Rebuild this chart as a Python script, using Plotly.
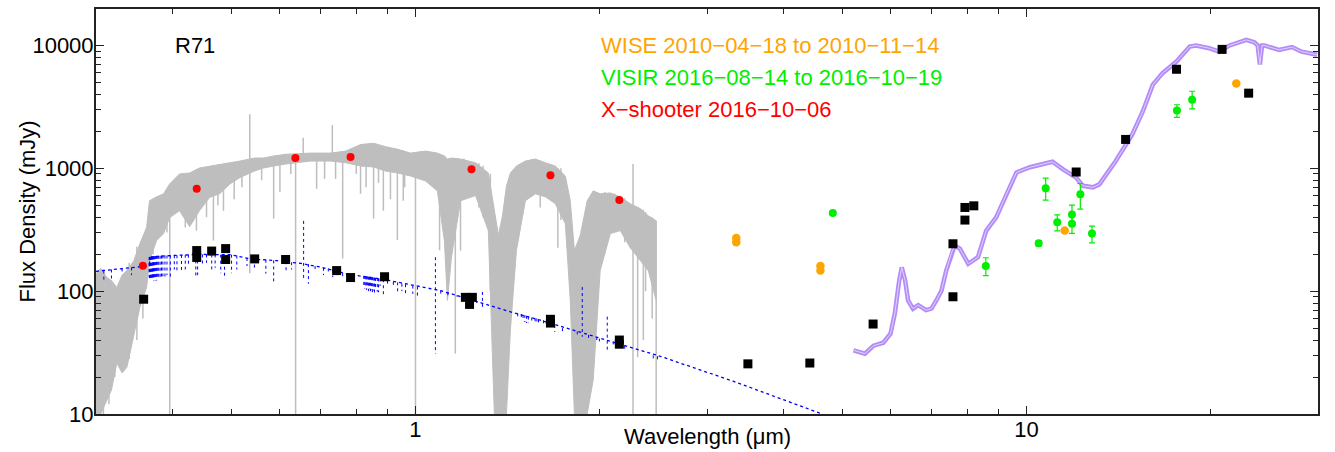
import math
import plotly.graph_objects as go

# ---------------- data (wavelength in micron, flux density in mJy) ----------------
# X-shooter spectrum, upper / lower envelope of the (noisy) grey spectrum
xs_wl = [0.300, 0.3055, 0.3126, 0.318, 0.3245, 0.331, 0.337, 0.346, 0.354, 0.363,
         0.367, 0.377, 0.387, 0.396, 0.411, 0.427, 0.443, 0.4605, 0.478, 0.497,
         0.516, 0.545, 0.564, 0.586, 0.613, 0.6735, 0.726, 0.769, 0.813, 0.854,
         0.893, 0.935, 0.981, 1.038, 1.086, 1.115, 1.128, 1.145, 1.185, 1.254,
         1.316, 1.346, 1.367, 1.388, 1.409, 1.430, 1.463, 1.513, 1.571, 1.631,
         1.694, 1.759, 1.792, 1.820, 1.861, 1.910, 1.954, 2.006, 2.084, 2.164,
         2.246, 2.332, 2.404, 2.477]
xs_hi = [139, 153, 129, 122, 107, 135, 147, 177, 244, 330,
         544, 586, 620, 746, 900, 916, 1005, 1044, 1083, 1110,
         1145, 1212, 1212, 1260, 1300, 1330, 1330, 1380, 1560, 1600,
         1500, 1430, 1330, 1380, 1330, 1260, 1190, 1212, 1190, 1110,
         916, 451, 285, 411, 719, 916, 1044, 1145, 1190, 1110,
         1044, 866, 544, 214, 285, 544, 655, 620, 630, 586,
         515, 470, 411, 375]
xs_lo = [10, 10, 13, 15.7, 26, 21.6, 24, 45, 74, 107,
         177, 258, 294, 397, 451, 335, 451, 580, 620, 746,
         840, 950, 1005, 1044, 1083, 1145, 1145, 1110, 1044, 1025,
         950, 916, 866, 790, 655, 258, 84, 188, 544, 600,
         311, 10, 10, 10, 10, 48, 214, 544, 620, 586,
         515, 354, 84, 10, 10, 10, 19, 147, 294, 311,
         226, 177, 147, 84]
# narrow spectral features / noise spikes of the grey spectrum (wavelength, top, bottom)
sp_wl = [0.3961, 0.438, 0.467, 0.485, 0.5355, 0.586, 0.6365, 0.655, 0.689, 0.731,
         0.740, 0.760, 0.813, 0.854, 0.886, 0.934, 0.955, 1.000, 1.095, 1.162,
         1.185, 1.326, 1.71, 2.27, 2.31, 2.36, 2.477,
         0.3085, 0.315, 0.322, 0.340, 0.350, 0.358, 0.372, 0.392, 0.420, 0.455,
         0.475, 0.505, 0.520, 0.560, 0.600, 0.625, 0.710, 0.800, 0.830, 0.870,
         0.910, 0.960, 1.050, 1.200, 1.270, 1.290, 1.480, 1.550, 1.600, 1.660,
         1.730, 2.040, 2.120, 2.200, 2.380, 2.440]
sp_top = [450, 900, 1040, 1080, 2750, 1250, 1300, 1770, 1300, 2245,
          1300, 1330, 1560, 1500, 1450, 1430, 1400, 1330, 1300, 1200,
          1190, 900, 1000, 1083, 480, 460, 375,
          150, 120, 110, 170, 230, 260, 560, 680, 900, 1030,
          1080, 1120, 1150, 1220, 1280, 1300, 1330, 1500, 1560, 1550,
          1450, 1350, 1380, 1200, 1100, 1050, 1080, 1190, 1160, 1080,
          1000, 640, 620, 570, 440, 400]
sp_bot = [10, 311, 258, 451, 140, 390, 10, 1300, 680, 1300,
          820, 184, 620, 390, 451, 260, 544, 10, 215, 31,
          214, 101, 226, 10, 29, 40, 10,
          10, 12, 20, 28, 40, 60, 200, 300, 330, 400,
          500, 560, 700, 800, 640, 900, 820, 900, 700, 760,
          560, 700, 900, 620, 480, 400, 420, 900, 480, 780,
          380, 200, 380, 250, 100, 60]

# stellar photosphere model (blue dotted)
ph_wl = [0.300, 0.363, 0.366, 0.370, 0.398, 0.445, 0.498, 0.537, 0.593, 0.649,
         0.699, 0.783, 0.877, 1.0, 1.099, 1.244, 1.414, 1.601, 1.813, 2.060,
         2.332, 2.515, 3.31, 4.63]
ph_f = [145, 160, 163, 190, 195, 199, 198, 183, 177, 168,
        157, 136, 126, 110, 101, 84, 69, 58, 48, 40,
        33, 29.5, 18.5, 10]
# model absorption / emission lines (wavelength, top, bottom)
bl_wl = [0.309, 0.318, 0.331, 0.343,
         0.367, 0.369, 0.371, 0.373, 0.375, 0.377, 0.380, 0.384, 0.389, 0.397,
         0.407, 0.414, 0.437, 0.464, 0.487, 0.510, 0.569, 0.586,
         0.656,
         0.668, 0.707, 0.732, 0.783,
         0.844, 0.850, 0.857, 0.866, 0.870, 0.886, 0.935, 0.963, 1.0075,
         1.078, 1.287,
         1.52, 1.58, 1.62, 1.69, 1.74, 1.84,
         1.875, 1.92, 2.06, 2.107, 2.45, 2.49,
         0.3665, 0.3675, 0.3685, 0.3695, 0.3705, 0.3715, 0.3725, 0.3735, 0.3745, 0.376,
         0.3785, 0.382, 0.386, 0.392,
         0.403, 0.420, 0.425, 0.440, 0.448, 0.455, 0.470, 0.480, 0.492, 0.500,
         0.530, 0.545,
         0.614, 0.627, 0.685, 0.720, 0.760,
         0.823, 0.826, 0.829, 0.832, 0.835, 0.838, 0.841, 0.847, 0.853, 0.860, 0.875,
         0.900, 0.920, 0.950, 0.990,
         1.10, 1.13, 1.17, 1.21, 1.26,
         1.47, 1.49, 1.50, 1.51, 1.53, 1.55, 1.57, 1.59, 1.64,
         1.98, 2.00, 2.17, 2.20]
bl_top = [147, 150, 153, 156,
          190, 191, 192, 193, 193, 194, 194, 195, 195, 195,
          196, 197, 199, 199, 198, 195, 180, 178,
          373,
          166, 155, 150, 136,
          131, 130, 129, 128, 127, 125, 118, 114, 109,
          189, 98.6,
          63, 60, 58, 53, 50, 47,
          108, 44, 62, 39, 30, 29.5,
          189, 189, 190, 190, 191, 191, 192, 192, 193, 193,
          194, 194, 195, 195,
          196, 198, 198, 199, 199, 199, 199, 198, 198, 198,
          186, 184,
          175, 172, 160, 153, 140,
          133, 133, 132, 132, 132, 131, 131, 130, 129, 128, 127,
          122, 119, 115, 111,
          101, 98, 93, 87, 83,
          66, 65, 64, 64, 62, 61, 60, 59, 56,
          42, 41, 37, 36]
bl_bot = [122, 125, 139, 135,
          128, 125, 124, 122, 122, 122, 124, 127, 128, 130,
          140, 145, 129, 150, 126, 150, 139, 118,
          127,
          115, 135, 130, 120,
          100, 98, 96, 99, 98, 90, 95, 92, 88,
          31, 72.5,
          55, 54, 52, 46.6, 45, 43,
          42.5, 40, 33, 36, 27, 27,
          130, 126, 128, 124, 127, 123, 126, 124, 125, 128,
          126, 130, 132, 135,
          150, 150, 160, 135, 160, 170, 155, 140, 165, 140,
          160, 150,
          140, 150, 150, 140, 128,
          108, 105, 110, 102, 106, 100, 104, 103, 101, 105, 110,
          115, 108, 100, 95,
          92, 92, 90, 82, 80,
          60, 58, 57, 56, 55, 55, 54, 53, 52,
          40, 39, 33, 34]

# dust model SED (purple)
pm_wl = [5.21, 5.44, 5.62, 5.83, 5.99, 6.09, 6.19, 6.25, 6.33, 6.40,
         6.52, 6.65, 6.85, 6.99, 7.12, 7.26, 7.39, 7.53, 7.63, 7.78,
         8.03, 8.33, 8.59, 8.92, 9.27, 9.63, 10.13, 10.65, 11.03, 11.48,
         12.06, 12.37, 12.84, 13.16, 13.99, 14.9, 15.5, 16.1, 16.7, 17.6,
         18.5, 18.95, 19.9, 20.7, 21.5, 22.9, 23.6, 23.9, 24.1, 24.3,
         24.5, 25.9, 27.2, 28.2, 29.9]
pm_f = [33, 31, 36, 38, 45, 66, 122, 156, 122, 84,
        72, 77, 70, 72, 84, 101, 147, 202, 235, 222,
        167, 189, 310, 398, 615, 925, 1020, 1080, 1130, 980,
        840, 720, 700, 740, 1140, 1890, 2900, 4800, 5950, 7400,
        9800, 10000, 9500, 8900, 10000, 11100, 10600, 10000, 7000, 10000,
        10000, 9200, 9700, 8900, 8400]

# archival photometry (black squares)
bk_wl = [0.359, 0.4385, 0.4385, 0.4639, 0.489, 0.489, 0.5455, 0.613, 0.743, 0.783,
         0.89, 1.207, 1.239, 1.226, 1.663, 1.663, 2.156, 2.156, 3.50, 4.42,
         5.61, 7.58, 7.58, 7.93, 7.93, 8.2, 12.06, 14.53, 17.6, 20.9, 23.1]
bk_f = [86, 214, 188, 212, 222, 181, 183, 181, 147, 129,
        131, 89, 89, 78, 59, 55, 40, 37, 25.6, 26,
        54, 90, 243, 379, 480, 495, 933, 1718, 6400, 9290, 4090]

# X-shooter synthetic photometry (red)
rd_wl = [0.358, 0.4385, 0.636, 0.783, 1.235, 1.663, 2.156]
rd_f = [161, 682, 1211, 1236, 982, 877, 551]

# WISE (orange)
or_wl = [3.35, 3.35, 4.60, 4.60, 11.55, 22.05]
or_f = [271, 250, 160, 147, 311, 4910]

# VISIR (green) with errors
gr_wl = [4.82, 8.58, 10.47, 10.75, 11.23, 11.87, 11.87, 12.25, 12.8, 17.63, 18.67]
gr_f = [432, 160, 245, 689, 363, 421, 354, 615, 294, 2950, 3620]
gr_up = [18, 27, 12, 142, 55, 80, 57, 137, 44, 340, 620]
gr_dn = [18, 26, 11, 139, 53, 65, 59, 150, 47, 350, 570]

x_ticks = [1, 10]
y_ticks = [10, 100, 1000, 10000]

GREY = "#bebebe"
BLUE = "#0000ff"
PURPLE = "#b48cf7"
ORANGE = "#ffa500"
GREEN = "#00ee00"
RED = "#ff0000"
FRAME = "#222222"
FONT = "Liberation Sans, Arial, Helvetica, sans-serif"
FS = 22


def segments(wl, top, bot):
    xs, ys = [], []
    for w, t, b in zip(wl, top, bot):
        xs += [w, w, None]
        ys += [t, b, None]
    return xs, ys


fig = go.Figure()

# grey spectrum band
fig.add_trace(go.Scatter(x=xs_wl, y=xs_lo, mode="lines", line=dict(color=GREY, width=1),
                         hoverinfo="skip"))
fig.add_trace(go.Scatter(x=xs_wl, y=xs_hi, mode="lines", line=dict(color=GREY, width=1),
                         fill="tonexty", fillcolor=GREY, hoverinfo="skip"))
sx, sy = segments(sp_wl, sp_top, sp_bot)
fig.add_trace(go.Scatter(x=sx, y=sy, mode="lines", line=dict(color=GREY, width=1.5),
                         hoverinfo="skip"))

# blue photosphere model
bx, by = segments(bl_wl, bl_top, bl_bot)
fig.add_trace(go.Scatter(x=bx, y=by, mode="lines", line=dict(color=BLUE, width=1, dash="dot"),
                         hoverinfo="skip"))
fig.add_trace(go.Scatter(x=ph_wl, y=ph_f, mode="lines", line=dict(color=BLUE, width=1.3, dash="dot"),
                         hoverinfo="skip"))

# purple dust model
fig.add_trace(go.Scatter(x=pm_wl, y=pm_f, mode="lines", line=dict(color=PURPLE, width=4.5),
                         hoverinfo="skip"))
fig.add_trace(go.Scatter(x=pm_wl, y=pm_f, mode="lines", line=dict(color="#e2d2fd", width=1),
                         hoverinfo="skip"))

# photometry
fig.add_trace(go.Scatter(x=bk_wl, y=bk_f, mode="markers",
                         marker=dict(symbol="square", size=9, color="black")))
fig.add_trace(go.Scatter(x=rd_wl, y=rd_f, mode="markers",
                         marker=dict(symbol="circle", size=8, color=RED)))
fig.add_trace(go.Scatter(x=gr_wl, y=gr_f, mode="markers",
                         marker=dict(symbol="circle", size=8, color=GREEN),
                         error_y=dict(type="data", symmetric=False, array=gr_up, arrayminus=gr_dn,
                                      color=GREEN, thickness=1.2, width=3)))
# WISE points on the mirrored (top/right) axes so that those axes get drawn
fig.add_trace(go.Scatter(x=or_wl, y=or_f, mode="markers", xaxis="x2", yaxis="y2",
                         marker=dict(symbol="circle", size=8.5, color=ORANGE)))

minor = dict(dtick="D1", ticks="inside", ticklen=5, tickwidth=1, tickcolor=FRAME, showgrid=False)
axis_common = dict(type="log", ticks="inside", ticklen=8, tickwidth=1.2, tickcolor=FRAME,
                   showgrid=False, zeroline=False, minor=minor,
                   tickfont=dict(family=FONT, size=FS, color="black"))

xrange = [math.log10(0.3), math.log10(30)]
yrange = [1, 4.2967]

fig.update_layout(
    xaxis=dict(range=xrange, tickmode="array", tickvals=x_ticks,
               ticktext=[str(v) for v in x_ticks], showline=True, linecolor=FRAME,
               linewidth=2, mirror=True, ticklabelstandoff=-5, **axis_common),
    yaxis=dict(range=yrange, tickmode="array", tickvals=y_ticks,
               ticktext=[str(v) for v in y_ticks], showline=True, linecolor=FRAME,
               linewidth=2, mirror=True, ticklabelstandoff=-4, **axis_common),
    xaxis2=dict(range=xrange, overlaying="x", side="top", anchor="y", matches="x",
                tickmode="array", tickvals=x_ticks, showticklabels=False, showline=False,
                **axis_common),
    yaxis2=dict(range=yrange, overlaying="y", side="right", anchor="x", matches="y",
                tickmode="array", tickvals=y_ticks, showticklabels=False, showline=False,
                **axis_common),
)

ann = [
    dict(text="R71", x=0.063, y=0.909, color="black"),
    dict(text="WISE 2010\u221204\u221218 to 2010\u221211\u221214", x=0.4116, y=0.911, color=ORANGE),
    dict(text="VISIR 2016\u221208\u221214 to 2016\u221210\u221219", x=0.4116, y=0.830, color=GREEN),
    dict(text="X\u2212shooter 2016\u221210\u221206", x=0.4116, y=0.751, color=RED),
]
for a in ann:
    fig.add_annotation(text=a["text"], x=a["x"], y=a["y"], xref="paper", yref="paper",
                       xanchor="left", yanchor="middle", showarrow=False,
                       font=dict(family=FONT, size=FS, color=a["color"]))

fig.add_annotation(text="Wavelength (\u03bcm)", x=0.5, y=-0.056, xref="paper", yref="paper",
                   xanchor="center", yanchor="middle", showarrow=False,
                   font=dict(family=FONT, size=FS, color="black"))
fig.add_annotation(text="Flux Density (mJy)", x=-0.056, y=0.499, xref="paper", yref="paper",
                   xanchor="center", yanchor="middle", textangle=-90, showarrow=False,
                   font=dict(family=FONT, size=FS, color="black"))

fig.update_layout(width=1335, height=452, margin=dict(l=96, r=17, t=7, b=38),
                  paper_bgcolor="white", plot_bgcolor="white", showlegend=False,
                  font=dict(family=FONT, size=FS, color="black"))

fig.write_html("out.html")
